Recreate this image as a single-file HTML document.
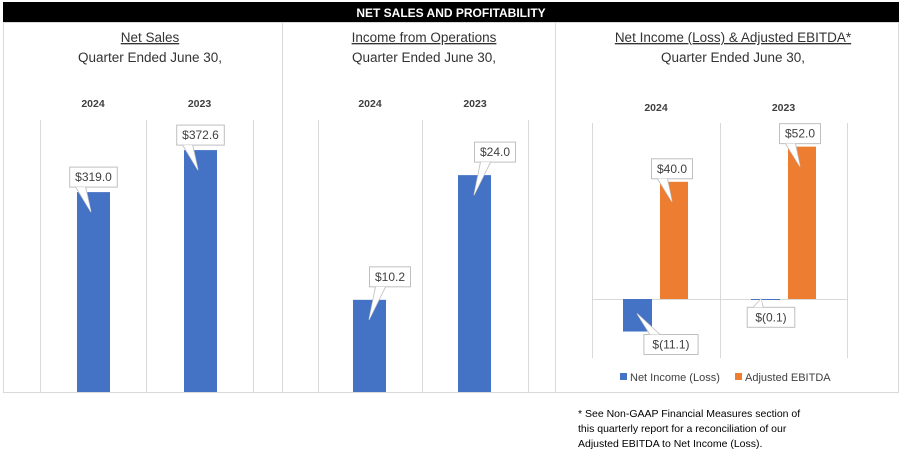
<!DOCTYPE html>
<html><head><meta charset="utf-8"><style>
body{margin:0;background:#fff;font-family:"Liberation Sans",sans-serif}
svg text{font-family:"Liberation Sans",sans-serif}
</style></head><body>
<svg id="c" width="902" height="468" viewBox="0 0 902 468" xmlns="http://www.w3.org/2000/svg">
<rect x="0" y="0" width="902" height="468" fill="#fff"/>
<rect x="3" y="2" width="896" height="20" fill="#000"/>
<text x="451" y="17" text-anchor="middle" font-size="12" font-weight="bold" fill="#fff">NET SALES AND PROFITABILITY</text>
<rect x="3.5" y="22.5" width="279" height="370" fill="none" stroke="#d9d9d9"/>
<rect x="282.5" y="22.5" width="273" height="370" fill="none" stroke="#d9d9d9"/>
<rect x="555.5" y="22.5" width="343" height="370" fill="none" stroke="#d9d9d9"/>
<g id="g"></g>
<g font-size="10.5" fill="#000">
<text x="578" y="417">* See Non-GAAP Financial Measures section of</text>
<text x="578" y="432">this quarterly report for a reconciliation of our</text>
<text x="578" y="447">Adjusted EBITDA to Net Income (Loss).</text>
</g>
</svg>
<script>
const years = ["2024","2023"];
const netSales = [319.0, 372.6];
const incomeOps = [10.2, 24.0];
const netIncome = [-11.1, -0.1];
const adjEbitda = [40.0, 52.0];
const salesLabels = ["$319.0","$372.6"];
const opsLabels = ["$10.2","$24.0"];
const niLabels = ["$(11.1)","$(0.1)"];
const ebLabels = ["$40.0","$52.0"];

const NS="http://www.w3.org/2000/svg";
const g=document.getElementById('g');
function el(t,a,txt){const e=document.createElementNS(NS,t);for(const k in a)e.setAttribute(k,a[k]);if(txt!==undefined)e.textContent=txt;g.appendChild(e);return e;}

function header(cx,title,yTitle,ySub,yYear,gridX,idx){
  const t=el('text',{x:cx,y:yTitle,'text-anchor':'middle','font-size':13.5,fill:'#333','text-decoration':'underline'},title);
  
  
  const s=el('text',{x:cx,y:ySub,'text-anchor':'middle','font-size':13.5,fill:'#333'},'Quarter Ended June 30,');
  
  
  years.forEach((y,i)=>{
    const yt=el('text',{x:(gridX[i]+gridX[i+1])/2,y:yYear,'text-anchor':'middle','font-size':10.5,'font-weight':'bold',fill:'#404040'},y);
    
    
  });
}
function grid(xs,y0,y1){xs.forEach(x=>{const l=el('line',{x1:x+.5,x2:x+.5,y1:y0,y2:y1,stroke:'#d9d9d9'});
  
  });}
function bar(x,w,yA,yB,color,name){const r=el('rect',{x:x,y:Math.min(yA,yB),width:w,height:Math.max(1,Math.abs(yB-yA)),fill:color});
  
  }
function callout(cx,by,tipx,tipy,label,above){
  const w=label.length*6.6+8,h=20;
  const bx=cx-w/2, byTop=above?by-h:by;
  const edge=by;
  const p=el('polygon',{points:`${bx+6},${edge} ${bx+16},${edge} ${tipx},${tipy}`,fill:'#fff',stroke:'#bfbfbf'});
  
  
  const r=el('rect',{x:bx,y:byTop,width:w,height:h,fill:'#fff',stroke:'#bfbfbf'});
  
  
  el('polygon',{points:`${bx+6.5},${edge} ${bx+15.5},${edge} ${tipx},${tipy}`,fill:'#fff',stroke:'none'});
  const t=el('text',{x:cx,y:byTop+14,'text-anchor':'middle','font-size':12,fill:'#404040'},label);
  
  
}

// Panel 1: Net Sales (axis min not zero)
{const gx=[40,146,253],base=392,top=120,min=64,max=411;
 const ys=v=>base-(v-min)/(max-min)*(base-top);
 header(150,'Net Sales',42,62,107,gx,1);grid(gx,top,base);
 const bx=[77,184];
 netSales.forEach((v,i)=>{const y=ys(v);bar(bx[i],33,y,base,'#4472c4','bar-net-sales-'+years[i]);
   callout(bx[i]+16.5,y-5,bx[i]+14,y+20,salesLabels[i],true);});}
// Panel 2: Income from Operations
{const gx=[318,422,528],base=392,top=120,max=30.1;
 const ys=v=>base-v/max*(base-top);
 header(424,'Income from Operations',42,62,107,gx,2);grid(gx,top,base);
 const bx=[353,458];
 incomeOps.forEach((v,i)=>{const y=ys(v);bar(bx[i],33,y,base,'#4472c4','bar-income-ops-'+years[i]);
   callout(bx[i]+37,y-13,bx[i]+16,y+20,opsLabels[i],true);});}
// Panel 3
{const gx=[592,720,847],zero=299,top=123,bot=358,k=2.93;
 const ys=v=>zero-v*k;
 header(733,'Net Income (Loss) & Adjusted EBITDA*',42,62,111,gx,3);grid(gx,top,bot);
 const zl=el('line',{x1:592,x2:848,y1:zero+.5,y2:zero+.5,stroke:'#d9d9d9'});
 
 
 const bb=[623,751],ob=[660,788];
 netIncome.forEach((v,i)=>{const y=ys(v);bar(bb[i],29,zero,y,'#4472c4','bar-net-income-'+years[i]);});
 adjEbitda.forEach((v,i)=>{const y=ys(v);bar(ob[i],28,y,zero,'#ed7d31','bar-adj-ebitda-'+years[i]);});
 adjEbitda.forEach((v,i)=>{const y=ys(v);callout(ob[i]+12,y-3,ob[i]+12,y+20,ebLabels[i],true);});
 callout(671,ys(netIncome[0])+3,637,ys(netIncome[0])-18,niLabels[0],false);
 callout(771,ys(netIncome[1])+8,761,zero,niLabels[1],false);
 const l1=el('rect',{x:620,y:373,width:7,height:7,fill:'#4472c4'});
 
 
 const t1=el('text',{x:630,y:381,'font-size':11,fill:'#404040'},'Net Income (Loss)');
 
 
 const l2=el('rect',{x:735,y:373,width:7,height:7,fill:'#ed7d31'});
 
 
 const t2=el('text',{x:745,y:381,'font-size':11,fill:'#404040'},'Adjusted EBITDA');
 
 }
</script>
</body></html>
